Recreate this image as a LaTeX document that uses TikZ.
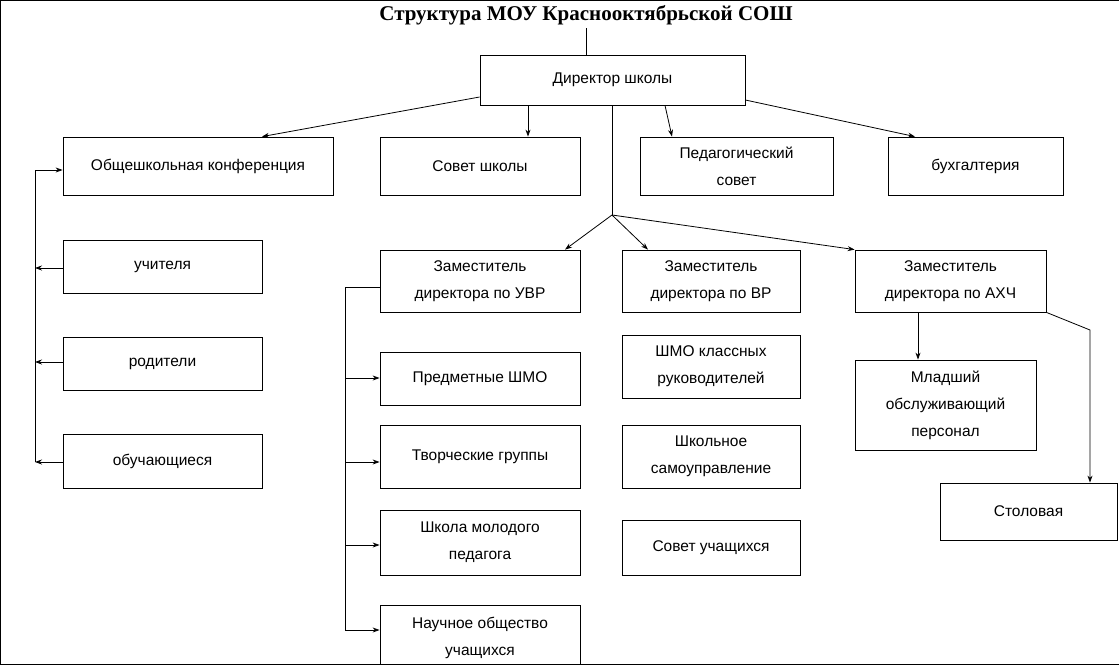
\documentclass[tikz,border=0pt]{standalone}
\usepackage{fontspec}
\setmainfont{Liberation Sans}
\newfontfamily\titlefont{Liberation Serif}
\usetikzlibrary{arrows.meta}
\tikzset{bx/.style={draw,thick,inner sep=2pt,align=center,font=\fontsize{15.5}{27}\selectfont},
ln/.style={thick},ar/.style={thick,-{Stealth[length=7pt,width=5pt]}}}
\newcommand\bx[6]{\node[bx,minimum width={(#4-#2)*1pt},minimum height={(#5-#3)*1pt}] (#1) at ({(#2+#4)/2},{(#3+#5)/2}) {#6};}
\begin{document}
\begin{tikzpicture}[x=1pt,y=-1pt]
\useasboundingbox (0,0) rectangle (1119,664);
\draw[thick] (0,0) rectangle (1119,664);
\node[font=\titlefont\bfseries\fontsize{21}{24}\selectfont] (t) at (586,15) {Структура МОУ Краснооктябрьской СОШ};
\bx{d}{480}{55}{745}{105}{Директор школы}
\bx{k}{63}{137}{333}{195}{Общешкольная конференция}
\bx{s}{380}{137}{580}{195}{Совет школы}
\bx{p}{640}{137}{833}{195}{Педагогический\\совет}
\bx{b}{888}{137}{1063}{195}{бухгалтерия}
\bx{u}{63}{240}{262}{293}{учителя}
\bx{r}{63}{337}{262}{390}{родители}
\bx{o}{63}{434}{262}{488}{обучающиеся}
\bx{z1}{380}{250}{580}{312}{Заместитель\\директора по УВР}
\bx{z2}{622}{250}{800}{312}{Заместитель\\директора по ВР}
\bx{z3}{855}{250}{1046}{312}{Заместитель\\директора по АХЧ}
\bx{a1}{380}{352}{580}{405}{Предметные ШМО}
\bx{a2}{380}{425}{580}{488}{Творческие группы}
\bx{a3}{380}{510}{580}{575}{Школа молодого\\педагога}
\bx{a4}{380}{605}{580}{670}{Научное общество\\учащихся}
\bx{v1}{622}{335}{800}{398}{ШМО классных\\руководителей}
\bx{v2}{622}{425}{800}{488}{Школьное\\самоуправление}
\bx{v3}{622}{520}{800}{575}{Совет учащихся}
\bx{h1}{855}{360}{1036}{450}{Младший\\обслуживающий\\персонал}
\bx{h2}{940}{483}{1117}{540}{Столовая}
\draw[ln] (t.south -| 586,0) -- (d.north -| 586,0);
\draw[ar] (d.west |- 0,97) -- (k.north -| 262,0);
\draw[ar] (d.south -| 528,0) -- (s.north -| 528,0);
\draw[ar] (d.south -| 665,0) -- (p.north -| 672,0);
\draw[ar] (d.east |- 0,100) -- (b.north -| 915,0);
\coordinate (j) at (612,215);
\draw[ln] (d.south -| j) -- (j);
\draw[ar] (j) -- (z1.north -| 565,0);
\draw[ar] (j) -- (z2.north -| 648,0);
\draw[ar] (j) -- (z3.north west);
\coordinate (l) at (35,462);
\draw[ln] (l) -- (35,170);
\draw[ar] (35,170) -- (k.west |- 0,170);
\draw[ar] (u.west |- 0,268) -- (35,268);
\draw[ar] (r.west |- 0,362) -- (35,362);
\draw[ar] (o.west |- 0,462) -- (l);
\coordinate (m) at (345,630);
\draw[ln] (z1.west |- 0,287) -- (345,287) -- (m);
\draw[ar] (345,378) -- (a1.west |- 0,378);
\draw[ar] (345,462) -- (a2.west |- 0,462);
\draw[ar] (345,545) -- (a3.west |- 0,545);
\draw[ar] (m) -- (a4.west |- m);
\draw[ar] (z3.south -| 918,0) -- (h1.north -| 918,0);
\draw[ar] (z3.south east) -- (1090,330) -- (h2.north -| 1090,0);
\end{tikzpicture}
\end{document}
